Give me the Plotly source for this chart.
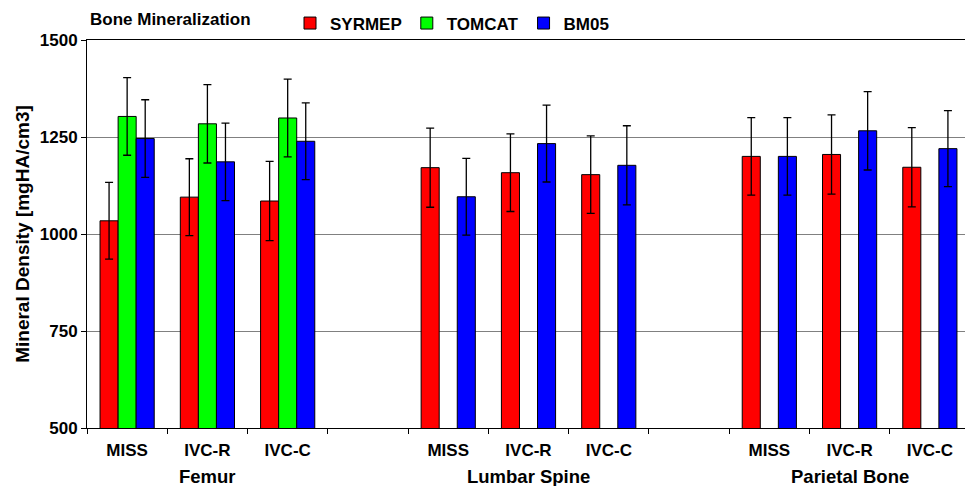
import plotly.graph_objects as go

# ---- data ----
slot_pos = [0, 1, 2, 4, 5, 6, 8, 9, 10]
tick_labels = ["MISS", "IVC-R", "IVC-C", "MISS", "IVC-R", "IVC-C", "MISS", "IVC-R", "IVC-C"]
groups = ["Femur", "Lumbar Spine", "Parietal Bone"]
group_pos = [1, 5, 9]
boundaries = [-0.5, 0.5, 1.5, 2.5, 3.5, 4.5, 5.5, 6.5, 7.5, 8.5, 9.5, 10.5]

syrmep = [1034, 1095, 1085, 1171, 1158, 1153, 1200, 1205, 1172]
syrmep_err = [99, 99, 102, 102, 100, 100, 100, 102, 102]
tomcat = [1303, 1284, 1299, None, None, None, None, None, None]
tomcat_err = [100, 101, 100, 0, 0, 0, 0, 0, 0]
bm05 = [1246, 1186, 1239, 1096, 1233, 1177, 1200, 1266, 1220]
bm05_err = [100, 100, 99, 99, 99, 102, 100, 101, 98]

FONT = "Liberation Sans, Arial, Helvetica, sans-serif"

# page has an 8px body margin; figure is sized/positioned to compensate
W, H = 965, 478
ML, MR, MT, MB = 79, 3, 32, 58
PW = W - ML - MR
PH = H - MT - MB

fig = go.Figure()
for name, vals, errs, col in [
    ("SYRMEP", syrmep, syrmep_err, "#FF0000"),
    ("TOMCAT", tomcat, tomcat_err, "#00FF00"),
    ("BM05", bm05, bm05_err, "#0000FF"),
]:
    fig.add_trace(go.Bar(
        x=slot_pos, y=vals, name=name,
        marker=dict(color=col, line=dict(color="black", width=1)),
        error_y=dict(type="data", array=errs, visible=True, color="black",
                     thickness=1.3, width=4),
    ))

for g, p in zip(groups, group_pos):
    fig.add_annotation(x=p, xref="x", y=(-(468 - 420)) / PH, yref="paper", text=g,
                       showarrow=False, xanchor="center", yanchor="middle",
                       font=dict(size=18.5, family=FONT, color="black", weight="bold"))

fig.add_annotation(x=(80 - ML) / PW, xref="paper", y=(MT + PH - 12) / PH, yref="paper",
                   text="Bone Mineralization",
                   showarrow=False, xanchor="left", yanchor="middle",
                   font=dict(size=17, family=FONT, color="black", weight="bold"))

fig.update_layout(
    width=W, height=H,
    margin=dict(l=ML, r=MR, t=MT, b=MB, autoexpand=False),
    paper_bgcolor="white", plot_bgcolor="white",
    font=dict(family=FONT, size=17, color="black", weight="bold"),
    barmode="group", bargap=0.325, bargroupgap=0,
    showlegend=True,
    legend=dict(orientation="h", x=(282 - ML) / PW, xanchor="left",
                yref="container", y=1 - 15.5 / H, yanchor="middle",
                font=dict(size=17, weight="bold"),
                bgcolor="rgba(0,0,0,0)", itemclick=False),
    xaxis=dict(
        range=[-0.5, 10.5], tickmode="array", tickvals=slot_pos, ticktext=tick_labels,
        ticks="", showgrid=False, zeroline=False, showline=True, linecolor="black",
        linewidth=1, mirror=True, ticklabelstandoff=7,
        tickfont=dict(size=17, weight="bold"),
        minor=dict(tickmode="array", tickvals=boundaries, ticks="outside", ticklen=5,
                   tickcolor="black", tickwidth=1, showgrid=False),
    ),
    yaxis=dict(
        range=[500, 1500], tickmode="array", tickvals=[500, 750, 1000, 1250, 1500],
        ticks="outside", ticklen=5, tickcolor="black", showgrid=True,
        gridcolor="#808080", gridwidth=1, zeroline=False, showline=True,
        linecolor="black", linewidth=1, mirror=True,
        tickfont=dict(size=17, weight="bold"),
        title=dict(text="Mineral Density [mgHA/cm3]", standoff=5,
                   font=dict(size=19, weight="bold")),
    ),
)

fig.write_html("out.html")
